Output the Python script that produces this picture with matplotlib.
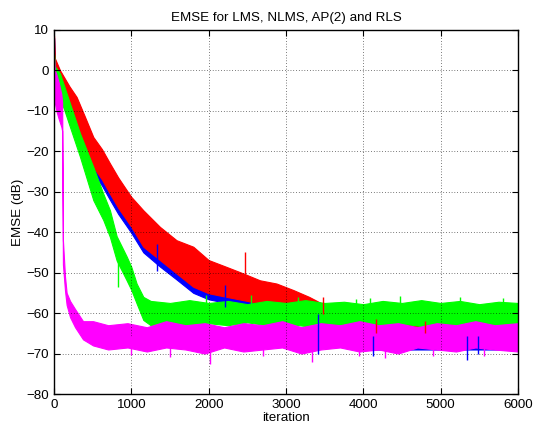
import matplotlib
matplotlib.use("Agg")
import matplotlib.pyplot as plt
import numpy as np

plt.rcParams["font.family"] = ["Liberation Sans", "DejaVu Sans"]
plt.rcParams["font.size"] = 9.6

# envelopes (upper / lower edge in dB) at checkpoint iterations
lms_it = [0, 10, 77, 200, 292, 400, 508, 620, 723, 830, 939, 1000, 1155, 1370, 1585,
          1801, 2000, 2232, 2447, 2663, 2878, 3094, 3300, 3500, 3750, 4000, 4500, 5000,
          5500, 6000]
lms_hi = [8, 2.5, -0.5, -4.5, -7, -12, -17, -20, -23.5, -27, -30, -31.8, -35, -39, -42.5,
          -44, -47.3, -49, -50.6, -52.3, -53, -54.6, -56.3, -58.3, -61.3, -62.5, -62.5, -62.5,
          -62.5, -62.5]
lms_lo = [-3, -4, -7, -12.5, -16.3, -21, -25.4, -28.5, -32, -35.5, -38.5, -40.2, -45, -48.5, -51.7,
          -55, -56.6, -57.5, -58.3, -59, -59.8, -60.2, -61.2, -64, -67, -69, -69, -69,
          -69, -69]

nlms_it = lms_it
nlms_hi = [8.5, 3, 0, -4, -6.6, -11.5, -16.5, -19.5, -23, -26.5, -29.6, -31.3, -34.6, -38.7, -42,
           -43.6, -46.9, -48.6, -50.2, -51.9, -52.7, -54.3, -56, -58, -61, -62, -62, -62,
           -62, -62]
nlms_lo = [-2, -3, -5.8, -11, -14.8, -19.5, -23.9, -27, -30.5, -34, -37, -38.7, -43.6, -46.9, -50.2,
           -53.5, -55.1, -56, -56.8, -57.6, -58.4, -58.8, -60, -63, -66, -68, -68, -68,
           -68, -68]

ap_it = [0, 10, 77, 206, 336, 508, 637, 723, 810, 939, 1000, 1068, 1155,
         1250, 1500, 1750, 2000, 2250, 2500, 2750, 3000, 3250, 3500, 3750, 4000,
         4250, 4500, 4750, 5000, 5250, 5500, 5750, 6000]
ap_hi = [4, 1, -0.8, -8.2, -15.6, -23.9, -30.5, -34.6, -41, -46, -48.6, -52.7, -56,
         -57, -57.5, -56.8, -57.5, -57, -57.8, -57, -57.5, -56.8, -57.5, -57.2, -57.8,
         -57, -57.5, -56.8, -57.5, -57, -57.8, -57.2, -57.5]
ap_lo = [-1, -2, -6.6, -14, -21.4, -32.1, -37, -41.2, -47, -51.9, -54.3, -57.6, -61.7,
         -63, -62.5, -63.2, -62.5, -63, -62.3, -63, -62.6, -63.2, -62.5, -63, -62.4,
         -63, -62.6, -63.2, -62.5, -63, -62.4, -63, -62.6]

rls_it = [0, 10, 30, 60, 95, 105, 115, 142, 163, 207, 272, 375, 505, 700, 950, 1200,
          1450, 1700, 1950, 2200, 2450, 2700, 2950, 3200, 3450, 3700, 3950, 4200,
          4450, 4700, 4950, 5200, 5450, 5700, 6000]
rls_hi = [3, 0, -1, -3, -6, -8, -42, -51, -55, -57, -59, -62, -62, -63, -62.5, -63.5,
          -62, -63, -62.5, -63.5, -62.5, -63, -62, -63.5, -62.5, -63, -62, -63,
          -62.5, -63.5, -62.5, -63, -62, -63, -62.5]
rls_lo = [-6, -8, -10, -12, -14, -15, -48, -54.5, -58, -61, -63.5, -66.5, -68, -69, -68.5, -69.5,
          -68.5, -69, -70, -68.5, -69.5, -69, -68.5, -70, -69, -68.5, -69.5, -69,
          -70, -68.5, -69, -69.5, -68.5, -69, -69.5]

# isolated spikes visible beyond the bands
lms_spk_it = [1330, 2210, 3420, 4130, 5340, 5480]
lms_spk_db = [-49.5, -58.5, -70, -70.5, -71.7, -70]
nlms_spk_it = [2470, 3480, 4170, 4800]
nlms_spk_db = [-45, -56, -61.5, -62]
ap_spk_it = [830, 1960, 2550, 3160, 3900, 4090, 4475, 5250, 5810]
ap_spk_db = [-53.5, -55.5, -55.5, -56, -56.5, -56.3, -55.8, -56, -56.3]
rls_spk_it = [1000, 1500, 2020, 2700, 3340, 3950, 4280, 4900, 5560]
rls_spk_db = [-70.4, -70.8, -72.7, -70.5, -72, -70.5, -71, -70.7, -70.5]

series = [
    (lms_it, lms_hi, lms_lo, lms_spk_it, lms_spk_db, "#0000ff"),
    (nlms_it, nlms_hi, nlms_lo, nlms_spk_it, nlms_spk_db, "#ff0000"),
    (ap_it, ap_hi, ap_lo, ap_spk_it, ap_spk_db, "#00ff00"),
    (rls_it, rls_hi, rls_lo, rls_spk_it, rls_spk_db, "#ff00ff"),
]

fig = plt.figure(figsize=(5.35, 4.28), dpi=100)
ax = fig.add_axes([0.101, 0.0794, 0.867, 0.851])

for it, hi, lo, sit, sdb, col in series:
    ax.fill_between(it, lo, hi, color=col, lw=0.8, edgecolor=col)
    base = np.interp(sit, it, (np.array(hi) + np.array(lo)) / 2)
    ax.vlines(sit, base, sdb, color=col, lw=1.0)

ax.set_xlim(0, 6000)
ax.set_ylim(-80, 10)
ax.set_xticks(range(0, 6001, 1000))
ax.set_yticks(range(-80, 11, 10))
ax.grid(True, color="k", linestyle=(0, (1, 3)), linewidth=0.5)
ax.tick_params(direction="in", top=True, right=True, length=4, labelsize=9.6)
for s in ax.spines.values():
    s.set_linewidth(1.0)
ax.set_title("EMSE for LMS, NLMS, AP(2) and RLS", fontsize=9.6)
ax.set_xlabel("iteration", labelpad=1)
ax.set_ylabel("EMSE (dB)", labelpad=2)

plt.savefig("out.png", dpi=100)
